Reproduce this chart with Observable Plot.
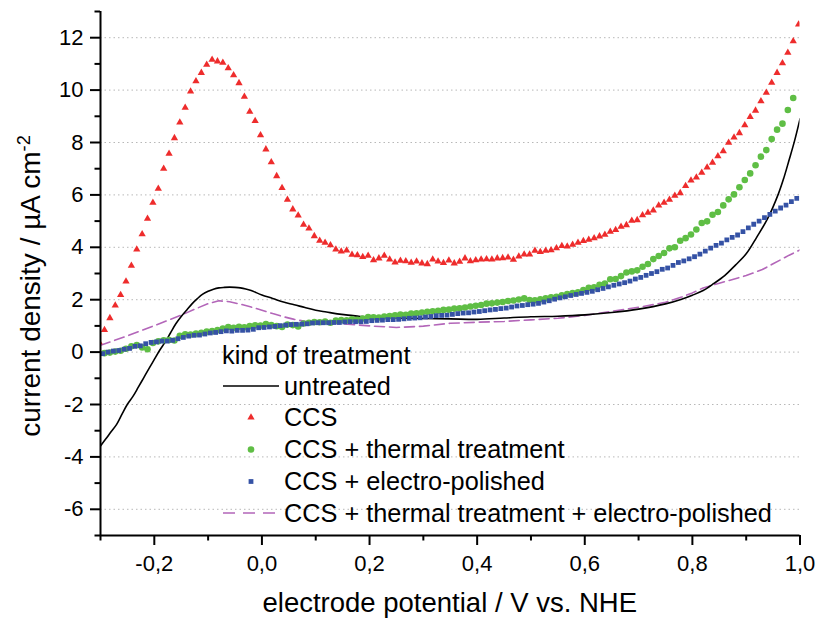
<!DOCTYPE html>
<html><head><meta charset="utf-8">
<script src="https://cdn.jsdelivr.net/npm/d3@7"></script>
<script src="https://cdn.jsdelivr.net/npm/@observablehq/plot@0.6"></script>
<style>body{margin:0;background:#fff} #chart svg{display:block}</style>
</head><body><div id="chart"></div>
<script>
// ---- labels / categories ----
const seriesNames = ["untreated", "CCS", "CCS + thermal treatment", "CCS + electro-polished", "CCS + thermal treatment + electro-polished"];
const seriesColors = ["#000000", "#ee2c2c", "#5fbe45", "#3552a5", "#b366b9"];
const legendTitle = "kind of treatment";
const xTitle = "electrode potential / V vs. NHE";
const yTitleMain = "current density / µA cm";
const yTitleSup = "-2";
const xMajor = [-0.2, 0, 0.2, 0.4, 0.6, 0.8, 1.0];
const xMinor = [-0.3, -0.1, 0.1, 0.3, 0.5, 0.7, 0.9];
const yMajor = [-6, -4, -2, 0, 2, 4, 6, 8, 10, 12];
const yMinor = [-7, -5, -3, -1, 1, 3, 5, 7, 9, 11, 13];

// ---- untreated (solid black line) ----
const untreatedX = [-0.30,-0.29,-0.28,-0.27,-0.26,-0.25,-0.24,-0.23,-0.22,-0.21,-0.20,-0.19,-0.18,-0.17,-0.16,-0.15,-0.14,-0.13,-0.12,-0.11,-0.10,-0.09,-0.08,-0.07,-0.06,-0.05,-0.04,-0.03,-0.02,0.00,0.02,0.04,0.06,0.08,0.10,0.12,0.14,0.16,0.18,0.20,0.25,0.30,0.35,0.40,0.45,0.50,0.55,0.60,0.65,0.70,0.75,0.78,0.80,0.82,0.84,0.86,0.88,0.90,0.92,0.94,0.96,0.97,0.98,0.99,1.00];
const untreatedY = [-3.58,-3.31,-3.03,-2.76,-2.37,-1.99,-1.70,-1.35,-0.99,-0.63,-0.28,0.07,0.38,0.73,1.08,1.36,1.60,1.84,2.04,2.21,2.32,2.40,2.45,2.47,2.48,2.47,2.45,2.41,2.35,2.18,2.05,1.91,1.81,1.70,1.60,1.53,1.46,1.41,1.37,1.33,1.30,1.28,1.27,1.25,1.30,1.35,1.37,1.42,1.51,1.64,1.84,2.02,2.17,2.35,2.62,2.92,3.32,3.75,4.40,5.10,6.05,6.65,7.35,8.07,8.90];

// ---- CCS (red triangles), sampled every 0.01 V ----
const ccsStart = -0.3026, ccsStep = 0.01;
const ccsY = [0.38,0.85,1.30,1.78,2.18,2.70,3.30,3.92,4.50,5.09,5.70,6.24,7.00,7.57,8.17,8.77,9.33,9.95,10.34,10.66,10.97,11.16,11.10,11.05,10.84,10.57,10.27,9.75,9.18,8.82,8.28,7.74,7.25,6.72,6.27,5.82,5.45,5.22,
4.86,4.72,4.43,4.25,4.18,4.08,3.92,3.84,3.88,3.72,3.70,3.63,3.68,3.51,3.58,3.68,3.54,3.42,3.49,3.47,3.41,3.46,3.39,3.36,3.54,3.46,3.40,3.50,3.39,3.45,3.58,3.47,3.51,3.54,3.55,3.54,3.58,3.59,3.61,3.53,3.65,3.73,3.73,3.87,3.82,3.87,3.89,3.97,
4.05,4.03,4.10,4.18,4.24,4.29,4.35,4.42,4.48,4.60,4.66,4.79,4.85,5.02,5.04,5.23,5.32,5.41,5.60,5.70,5.82,5.97,6.07,6.34,6.55,6.67,6.85,7.05,7.23,7.48,7.67,7.99,8.19,8.36,8.66,8.98,9.22,9.58,9.90,10.28,10.66,11.03,11.43,11.87,12.51];

// ---- CCS + thermal treatment (green circles) ----
const thermStart = -0.2926, thermStep = 0.01;
const thermY = [-0.04,-0.02,0.02,0.05,0.13,0.22,0.27,0.18,0.11,0.35,0.41,0.45,0.46,0.44,0.62,0.68,0.67,0.71,0.74,0.78,0.80,0.84,0.90,0.96,0.93,0.97,0.95,0.99,1.02,1.01,1.07,1.03,0.99,0.96,1.05,1.03,0.98,1.09,1.12,1.15,1.14,1.17,1.12,1.20,1.22,1.21,1.25,1.23,1.28,1.34,1.33,1.32,1.36,1.38,1.40,1.43,1.42,1.47,1.48,1.51,1.54,1.56,1.58,1.61,1.62,1.66,1.67,1.70,1.74,1.77,1.80,1.85,1.86,1.89,1.91,1.95,1.97,2.01,2.05,1.99,1.98,2.02,2.05,
2.09,2.11,2.17,2.22,2.25,2.28,2.37,2.45,2.47,2.57,2.62,2.78,2.79,2.90,3.04,3.08,3.12,3.26,3.36,3.55,3.67,3.78,3.96,4.00,4.25,4.35,4.49,4.68,4.93,4.99,5.24,5.35,5.60,5.83,6.02,6.29,6.57,6.82,7.13,7.46,7.71,8.13,8.49,8.72,9.24,9.70];

// ---- CCS + electro-polished (blue squares) ----
const polStart = -0.296, polStep = 0.01;
const polY = [-0.06,0.00,0.04,0.06,0.11,0.14,0.22,0.24,0.32,0.37,0.39,0.42,0.42,0.45,0.51,0.56,0.61,0.64,0.65,0.69,0.73,0.75,0.78,0.81,0.80,0.83,0.83,0.84,
0.87,0.93,0.94,0.96,0.98,1.01,1.03,1.05,1.06,1.07,1.08,1.11,1.12,1.12,1.12,1.13,1.13,1.15,1.16,1.16,1.16,1.17,1.20,1.21,1.22,1.24,1.24,1.25,1.27,1.29,1.30,1.31,1.34,1.36,1.39,1.40,1.41,1.44,1.47,1.49,1.50,1.53,1.55,1.58,1.61,1.63,1.66,1.68,1.72,1.76,1.78,1.81,1.83,1.86,1.91,1.96,
2.02,2.07,2.11,2.16,2.20,2.24,2.28,2.32,2.38,2.43,2.49,2.55,2.60,2.65,2.71,2.79,2.85,2.93,3.00,3.07,3.16,3.21,3.31,3.42,3.48,3.56,3.64,3.74,3.85,
3.97,4.07,4.16,4.28,4.38,4.47,4.60,4.74,4.88,5.00,5.13,5.26,5.38,5.50,5.61,5.74,5.87];

// ---- CCS + thermal treatment + electro-polished (purple dashed line) ----
const bothX = [-0.30,-0.25,-0.20,-0.15,-0.12,-0.10,-0.08,-0.06,-0.04,-0.02,0.00,0.02,0.04,0.06,0.08,0.10,0.15,0.20,0.25,0.30,0.35,0.40,0.45,0.50,0.55,0.60,0.65,0.70,0.75,0.78,0.80,0.82,0.85,0.90,0.93,0.95,0.98,1.00];
const bothY = [0.26,0.62,1.01,1.41,1.68,1.85,1.96,1.92,1.83,1.72,1.60,1.47,1.35,1.25,1.18,1.12,1.08,1.00,0.94,0.99,1.10,1.14,1.17,1.23,1.29,1.40,1.56,1.71,1.90,2.10,2.26,2.45,2.63,2.92,3.15,3.37,3.70,3.90];

// ---- build tables ----
const untreated = untreatedX.map((x, i) => ({x, y: untreatedY[i]}));
const both = bothX.map((x, i) => ({x, y: bothY[i]}));
const ccs = ccsY.map((y, i) => ({x: ccsStart + i * ccsStep, y}));
const therm = thermY.map((y, i) => ({x: thermStart + i * thermStep, y}));
const pol = polY.map((y, i) => ({x: polStart + i * polStep, y}));

const FONT = "'Liberation Sans', Arial, Helvetica, sans-serif";
const fmtX = d => (d < 0 ? "-" : "") + Math.abs(d).toFixed(1).replace(".", ",");
const fmtY = d => (d < 0 ? "-" : "") + Math.abs(d);

const chart = Plot.plot({
  width: 817, height: 621,
  marginLeft: 100, marginRight: 17.5, marginTop: 11, marginBottom: 86,
  x: {domain: [-0.3, 1.0], axis: null},
  y: {domain: [-7, 13], axis: null},
  style: {fontFamily: FONT, background: "white", color: "black"},
  marks: [
    Plot.gridY(yMajor, {stroke: "#b8b8b8", strokeOpacity: 1, strokeWidth: 1, strokeDasharray: "1.5,3"}),
    Plot.line(both, {x: "x", y: "y", stroke: seriesColors[4], strokeWidth: 1.6, strokeDasharray: "10,5", clip: true}),
    Plot.line(untreated, {x: "x", y: "y", stroke: seriesColors[0], strokeWidth: 1.6, curve: "catmull-rom", clip: true}),
    Plot.dot(ccs, {x: "x", y: "y", symbol: "triangle", r: 2.7, fill: seriesColors[1], stroke: "none", clip: true}),
    Plot.dot(therm, {x: "x", y: "y", symbol: "circle", r: 3.3, fill: seriesColors[2], stroke: "none", clip: true}),
    Plot.dot(pol, {x: "x", y: "y", symbol: "square", r: 2.7, fill: seriesColors[3], stroke: "none", clip: true}),
    Plot.axisX({ticks: xMajor, tickSize: 10, tickPadding: 10, tickFormat: fmtX, fontSize: 22, strokeWidth: 2, label: null}),
    Plot.axisX({ticks: xMinor, tickSize: 5.5, text: null, strokeWidth: 2, label: null}),
    Plot.axisY({ticks: yMajor, tickSize: 10, tickPadding: 7, tickFormat: fmtY, fontSize: 22, strokeWidth: 2, label: null}),
    Plot.axisY({ticks: yMinor, tickSize: 5.5, text: null, strokeWidth: 2, label: null}),
    Plot.ruleX([-0.3], {strokeWidth: 2}),
    Plot.ruleY([-7], {strokeWidth: 2})
  ]
});
document.getElementById("chart").appendChild(chart);

// ---- titles and legend ----
const svg = d3.select(chart);
svg.append("text").attr("x", 449.75).attr("y", 612).attr("text-anchor", "middle")
  .attr("font-family", FONT).attr("font-size", 27.5).attr("fill", "black").text(xTitle);
const yt = svg.append("text").attr("transform", "translate(40,286) rotate(-90)").attr("text-anchor", "middle")
  .attr("font-family", FONT).attr("font-size", 28).attr("fill", "black");
yt.append("tspan").text(yTitleMain);
yt.append("tspan").attr("dy", "-0.55em").attr("font-size", "0.65em").text(yTitleSup);

const lg = svg.append("g").attr("font-family", FONT).attr("font-size", 25.3).attr("fill", "black").attr("text-anchor", "start");
lg.append("text").attr("x", 222).attr("y", 364).attr("text-anchor", "start").text(legendTitle);
const rowY = [386, 417.5, 449.5, 481.5, 513];
const symbols = [null, d3.symbolTriangle, d3.symbolCircle, d3.symbolSquare, null];
const rad = [0, 2.7, 3.3, 2.7, 0];
seriesNames.forEach((name, i) => {
  const cy = rowY[i];
  if (i === 0) {
    lg.append("line").attr("x1", 223).attr("x2", 279).attr("y1", cy).attr("y2", cy).attr("stroke", seriesColors[0]).attr("stroke-width", 1.6);
  } else if (i === 4) {
    lg.append("line").attr("x1", 223).attr("x2", 279).attr("y1", cy).attr("y2", cy).attr("stroke", seriesColors[4]).attr("stroke-width", 1.6).attr("stroke-dasharray", "12,8");
  } else {
    lg.append("path").attr("transform", `translate(251,${cy})`).attr("d", d3.symbol(symbols[i], Math.PI * rad[i] * rad[i])()).attr("fill", seriesColors[i]);
  }
  lg.append("text").attr("x", 284).attr("y", cy + 8.5).attr("text-anchor", "start").text(name);
});
</script>
</body></html>
